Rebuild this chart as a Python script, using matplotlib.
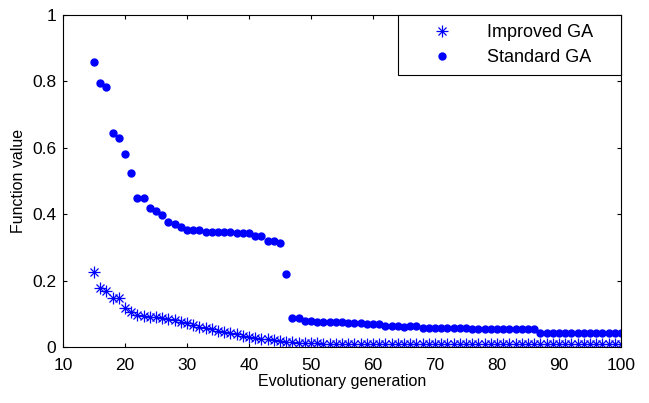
import numpy as np
import matplotlib
matplotlib.use("Agg")
import matplotlib.pyplot as plt

plt.rcParams['font.family'] = ['Liberation Sans', 'DejaVu Sans']

generations = list(range(15, 101))

improved_ga = [
    0.225, 0.177, 0.169, 0.149, 0.147, 0.117, 0.106, 0.097, 0.093, 0.090,
    0.089, 0.087, 0.084, 0.080, 0.075, 0.071, 0.066, 0.061, 0.056, 0.053,
    0.049, 0.045, 0.042, 0.038, 0.034, 0.031, 0.028, 0.025, 0.023, 0.020,
    0.018, 0.016, 0.014, 0.013, 0.012, 0.011, 0.011, 0.010, 0.010, 0.010,
    0.010, 0.010, 0.010, 0.010, 0.010, 0.009, 0.009, 0.009, 0.009, 0.009,
    0.009, 0.009, 0.009, 0.009, 0.009, 0.009, 0.009, 0.009, 0.009, 0.009,
    0.008, 0.008, 0.008, 0.008, 0.008, 0.008, 0.008, 0.008, 0.008, 0.008,
    0.008, 0.008, 0.008, 0.008, 0.008, 0.008, 0.008, 0.008, 0.008, 0.008,
    0.008, 0.008, 0.008, 0.008, 0.008, 0.008,
]

standard_ga = [
    0.859, 0.794, 0.784, 0.643, 0.630, 0.582, 0.525, 0.449, 0.449, 0.419,
    0.409, 0.397, 0.375, 0.369, 0.361, 0.352, 0.352, 0.352, 0.347, 0.347,
    0.347, 0.347, 0.347, 0.343, 0.343, 0.343, 0.335, 0.335, 0.320, 0.320,
    0.313, 0.220, 0.088, 0.088, 0.078, 0.078, 0.076, 0.076, 0.074, 0.074,
    0.074, 0.072, 0.072, 0.072, 0.068, 0.068, 0.068, 0.063, 0.063, 0.063,
    0.060, 0.063, 0.063, 0.058, 0.058, 0.058, 0.058, 0.058, 0.058, 0.058,
    0.058, 0.053, 0.053, 0.053, 0.053, 0.053, 0.053, 0.053, 0.053, 0.053,
    0.053, 0.053, 0.043, 0.043, 0.043, 0.043, 0.043, 0.043, 0.043, 0.043,
    0.043, 0.043, 0.043, 0.043, 0.043, 0.043,
]

legend_labels = ['Improved GA', 'Standard GA']

blue = (0, 0, 1)

fig = plt.figure(figsize=(6.49, 4.03), dpi=100)
ax = fig.add_axes([0.097, 0.139, 0.860, 0.824])

# MATLAB-style asterisk = plus + cross overlaid
p1, = ax.plot(generations, improved_ga, linestyle='none', marker='+',
              markersize=8.5, markeredgecolor=blue, markeredgewidth=0.9)
p2, = ax.plot(generations, improved_ga, linestyle='none', marker='x',
              markersize=6, markeredgecolor=blue, markeredgewidth=0.9)
s1, = ax.plot(generations, standard_ga, linestyle='none', marker='o',
              markersize=5, color=blue)

ax.set_xlim(10, 100)
ax.set_ylim(0, 1)
ax.set_xticks(range(10, 101, 10))
ax.set_yticks([0, 0.2, 0.4, 0.6, 0.8, 1])
ax.set_yticklabels(['0', '0.2', '0.4', '0.6', '0.8', '1'])
ax.tick_params(direction='in', top=True, right=True, labelsize=12.5, length=3)
ax.tick_params(axis='x', pad=8)
ax.tick_params(axis='y', pad=5)
for s in ax.spines.values():
    s.set_linewidth(0.8)

ax.set_xlabel('Evolutionary generation', fontsize=11.5, labelpad=1)
ax.set_ylabel('Function value', fontsize=11.5, labelpad=4)

# trailing spaces widen the box to the right like the original legend
leg = ax.legend([(p1, p2), s1], [t + '    ' for t in legend_labels],
                loc='upper right', fontsize=13, fancybox=False, framealpha=1,
                edgecolor='black', borderaxespad=0, handletextpad=0.6,
                handlelength=3.8, borderpad=0.5, labelspacing=0.45)
leg.get_frame().set_linewidth(0.8)

fig.savefig('out.png', dpi=100)
